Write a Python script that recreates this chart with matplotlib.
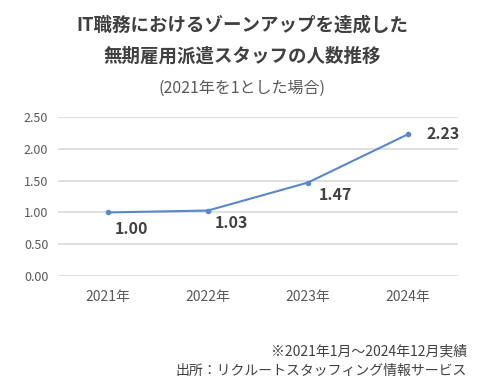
import matplotlib
matplotlib.use("Agg")
import matplotlib.pyplot as plt

plt.rcParams['font.family'] = ['Noto Sans CJK JP', 'DejaVu Sans']

# Data
years = ['2021年', '2022年', '2023年', '2024年']
values = [1.00, 1.03, 1.47, 2.23]
yticks = [0.0, 0.5, 1.0, 1.5, 2.0, 2.5]

# label offsets in points (dx, dy)
offsets = [(17, -12), (17, -9), (20, -9), (25, 0)]

fig = plt.figure(figsize=(4.85, 3.89), dpi=100)
ax = fig.add_axes([0.1196, 0.2905, 0.8247, 0.4085])

x = list(range(len(years)))
ax.plot(x, values, color='#5887cc', linewidth=1.5, marker='o', markersize=3, zorder=3)

for xi, v, (dx, dy) in zip(x, values, offsets):
    ax.annotate(f'{v:.2f}', (xi, v), xytext=(dx, dy), textcoords='offset points',
                ha='center', va='center', fontsize=11.5, fontweight='bold', color='#404040')

ax.set_xlim(-0.5, 3.5)
ax.set_ylim(0, 2.5)
ax.set_yticks(yticks)
ax.set_yticklabels([f'{t:.2f}' for t in yticks], fontsize=9, color='#595959')
ax.set_xticks(x)
ax.set_xticklabels(years, fontsize=10, color='#595959')
ax.tick_params(length=0)
ax.tick_params(axis='x', pad=10)
ax.tick_params(axis='y', pad=7)
ax.grid(axis='y', color='#d9d9d9', linewidth=1.2)
ax.set_axisbelow(True)
for s in ax.spines.values():
    s.set_visible(False)

fig.text(0.5, 1 - 25/389, 'IT職務におけるゾーンアップを達成した', ha='center', va='center',
         fontsize=13.3, fontweight='bold', color='#404040')
fig.text(0.5, 1 - 56/389, '無期雇用派遣スタッフの人数推移', ha='center', va='center',
         fontsize=13.3, fontweight='bold', color='#404040')
fig.text(0.5, 1 - 88/389, '(2021年を1とした場合)', ha='center', va='center',
         fontsize=11.5, color='#595959')

fig.text(467/485, 1 - 351/389, '※2021年1月～2024年12月実績', ha='right', va='center',
         fontsize=10, color='#404040')
fig.text(467/485, 1 - 371/389, '出所：リクルートスタッフィング情報サービス', ha='right', va='center',
         fontsize=10, color='#404040')

fig.savefig('out.png', dpi=100, facecolor='white')
